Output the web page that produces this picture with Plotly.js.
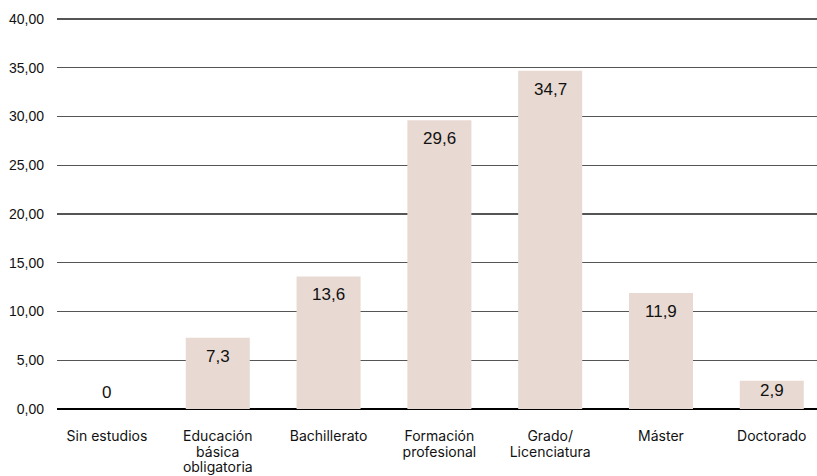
<!DOCTYPE html>
<html>
<head>
<meta charset="utf-8">
<script src="https://cdn.plot.ly/plotly-3.0.1.min.js"></script>
<style>html,body{margin:0;padding:0;background:#fff;}#chart{width:817px;height:476px;}</style>
</head>
<body>
<div id="chart"></div>
<script>
const categories = ["Sin estudios", "Educación<br>básica<br>obligatoria", "Bachillerato", "Formación<br>profesional", "Grado/<br>Licenciatura", "Máster", "Doctorado"];
const values = [0, 7.3, 13.6, 29.6, 34.7, 11.9, 2.9];
const valueLabels = ["0", "7,3", "13,6", "29,6", "34,7", "11,9", "2,9"];
const yTicks = [0, 5, 10, 15, 20, 25, 30, 35, 40];

const plotH = 476 - 17 - 67;
const pxPerUnit = plotH / 40.2;

const annotations = values.map((v, i) => {
  const px = v * pxPerUnit;
  if (v === 0) {
    return {x: i, y: v, text: valueLabels[i], showarrow: false, yanchor: 'bottom', yshift: 5,
      font: {family: 'Liberation Sans, Arial, sans-serif', size: 17, color: '#111'}};
  }
  return {x: i, y: v, text: valueLabels[i], showarrow: false, yanchor: 'top', yshift: px > 40 ? -7 : 2,
    font: {family: 'Liberation Sans, Arial, sans-serif', size: 17, color: '#111'}};
});

const trace = {
  type: 'bar',
  x: categories.map((c, i) => i),
  y: values,
  width: 0.578,
  marker: {color: '#e8dad3'},
  hoverinfo: 'none'
};

const layout = {
  width: 817, height: 476,
  margin: {l: 57, r: 0, t: 17, b: 67},
  paper_bgcolor: '#fff', plot_bgcolor: '#fff',
  showlegend: false,
  separators: ',.',
  font: {family: 'Liberation Sans, Arial, sans-serif', size: 14, color: '#111'},
  xaxis: {
    range: [-0.451, 6.408],
    tickmode: 'array', tickvals: categories.map((c, i) => i), ticktext: categories,
    ticks: '', showgrid: false, showline: false, zeroline: false,
    tickfont: {family: 'Inter, sans-serif', size: 14, color: '#111'},
    ticklabelstandoff: 17,
    fixedrange: true
  },
  yaxis: {
    range: [0, 40.2],
    tickmode: 'array', tickvals: yTicks,
    tickformat: '.2f',
    showgrid: true, gridcolor: '#555', gridwidth: 1.2,
    zeroline: true, zerolinecolor: '#000', zerolinewidth: 2.5,
    showline: false, ticks: '',
    ticklabelstandoff: 12,
    tickfont: {family: 'Liberation Sans, Arial, sans-serif', size: 14, color: '#111'},
    fixedrange: true
  },
  annotations: annotations
};

Plotly.newPlot('chart', [trace], layout, {staticPlot: true, displayModeBar: false}).then(() => {
  document.querySelectorAll('.xtick text tspan.line').forEach(t => {
    const dy = t.getAttribute('dy');
    if (dy && dy.indexOf('em') > -1) {
      const n = parseFloat(dy) / 1.3;
      t.setAttribute('dy', (n * 1.12).toFixed(3) + 'em');
    }
  });
});
</script>
</body>
</html>
